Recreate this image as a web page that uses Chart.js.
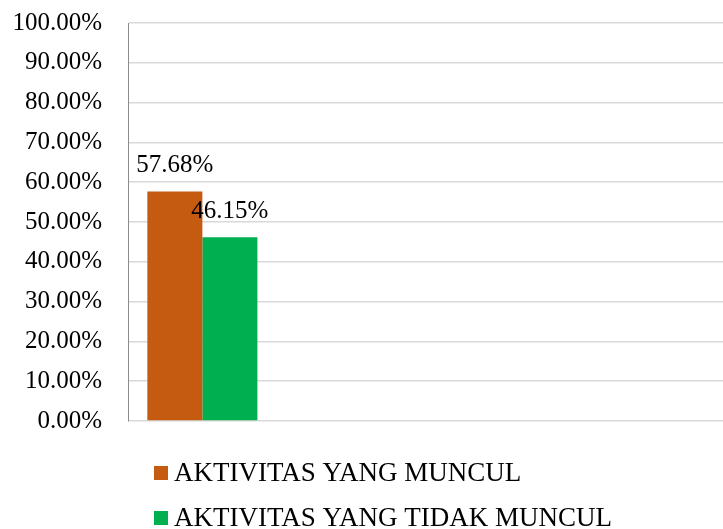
<!DOCTYPE html>
<html>
<head>
<meta charset="utf-8">
<script src="https://cdn.jsdelivr.net/npm/chart.js@4"></script>
<style>
  html, body { margin: 0; padding: 0; background: #fff; }
  #wrap { width: 723px; height: 529px; }
</style>
</head>
<body>
<div id="wrap"><canvas id="aktivitasChart" width="723" height="529"></canvas></div>
<script>
// data kategori (kolom kosong ikut dari grafik aslinya)
const categories = ['', '', '', ''];
const seriesNames = ['AKTIVITAS YANG MUNCUL', 'AKTIVITAS YANG TIDAK MUNCUL'];
const munculValues = [57.68, null, null, null];
const tidakMunculValues = [46.15, null, null, null];
const seriesColors = ['#C55A11', '#00B050'];
const yTicks = [0, 10, 20, 30, 40, 50, 60, 70, 80, 90, 100];

const serif = '"Liberation Serif", "Times New Roman", serif';

// label nilai di atas batang
const barLabels = {
    id: 'barLabels',
    afterDatasetsDraw(chart) {
        const ctx = chart.ctx;
        ctx.save();
        ctx.font = '25px ' + serif;
        ctx.fillStyle = '#000';
        ctx.textAlign = 'center';
        ctx.textBaseline = 'middle';
        chart.data.datasets.forEach((ds, i) => {
            chart.getDatasetMeta(i).data.forEach((bar, j) => {
                const v = ds.data[j];
                if (v == null) return;
                ctx.fillText(v.toFixed(2) + '%', bar.x, bar.y - 26);
            });
        });
        ctx.restore();
    }
};

// legenda di bawah, rata kiri, satu baris per seri
const bottomLegend = {
    id: 'bottomLegend',
    afterDraw(chart) {
        const ctx = chart.ctx;
        ctx.save();
        ctx.font = '27px ' + serif;
        ctx.textAlign = 'left';
        ctx.textBaseline = 'middle';
        chart.data.datasets.forEach((ds, i) => {
            const y = 473 + i * 45;
            ctx.fillStyle = ds.backgroundColor;
            ctx.fillRect(154, y - 7, 14, 14);
            ctx.fillStyle = '#000';
            ctx.fillText(ds.label, 174, y + 1);
        });
        ctx.restore();
    }
};

const ctx = document.getElementById('aktivitasChart').getContext('2d');
const aktivitasChart = new Chart(ctx, {
    type: 'bar',
    data: {
        labels: categories,
        datasets: [
            {
                label: seriesNames[0],
                data: munculValues,
                backgroundColor: seriesColors[0],
                borderWidth: 0
            },
            {
                label: seriesNames[1],
                data: tidakMunculValues,
                backgroundColor: seriesColors[1],
                borderWidth: 0
            }
        ]
    },
    options: {
        responsive: false,
        animation: false,
        categoryPercentage: 0.74,
        barPercentage: 1.0,
        layout: {
            padding: { left: 13, top: 23, right: 0, bottom: 108 }
        },
        scales: {
            x: {
                display: false
            },
            y: {
                min: 0,
                max: 100,
                afterBuildTicks(scale) {
                    scale.ticks = yTicks.map(v => ({ value: v }));
                },
                // lebar sumbu dikunci, padding atas/bawah dibuang
                afterFit(scale) {
                    scale.width = 115;
                    scale.paddingTop = 0;
                    scale.paddingBottom = 0;
                },
                ticks: {
                    padding: 26,
                    color: '#000',
                    font: { family: serif, size: 25 },
                    callback: v => v.toFixed(2) + '%'
                },
                grid: {
                    color: '#d9d9d9',
                    lineWidth: 1.5,
                    drawTicks: false
                },
                border: {
                    color: '#8c8c8c',
                    width: 1
                }
            }
        },
        plugins: {
            legend: { display: false },
            tooltip: { enabled: false }
        }
    },
    plugins: [barLabels, bottomLegend]
});
</script>
</body>
</html>
